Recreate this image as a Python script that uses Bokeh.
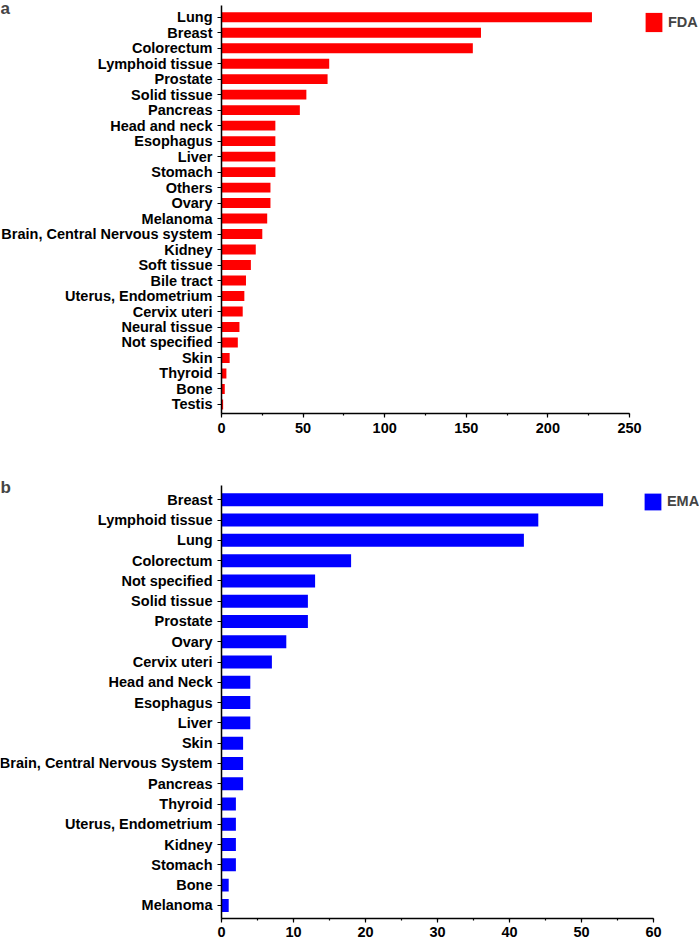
from bokeh.plotting import figure
from bokeh.models import (Range1d, SingleIntervalTicker, FixedTicker, Label, Legend,
                          LegendItem, ColumnDataSource)
from bokeh.layouts import column
from bokeh.embed import file_html
from bokeh.resources import INLINE

# ---- data ----
fda_sites = ["Lung", "Breast", "Colorectum", "Lymphoid tissue", "Prostate", "Solid tissue",
             "Pancreas", "Head and neck", "Esophagus", "Liver", "Stomach", "Others", "Ovary",
             "Melanoma", "Brain, Central Nervous system", "Kidney", "Soft tissue", "Bile tract",
             "Uterus, Endometrium", "Cervix uteri", "Neural tissue", "Not specified", "Skin",
             "Thyroid", "Bone", "Testis"]
fda_counts = [227, 159, 154, 66, 65, 52, 48, 33, 33, 33, 33, 30, 30, 28, 25, 21, 18, 15, 14,
              13, 11, 10, 5, 3, 2, 1]
fda_ticks_max = 250
fda_tick_step = 50

ema_sites = ["Breast", "Lymphoid tissue", "Lung", "Colorectum", "Not specified", "Solid tissue",
             "Prostate", "Ovary", "Cervix uteri", "Head and Neck", "Esophagus", "Liver", "Skin",
             "Brain, Central Nervous System", "Pancreas", "Thyroid", "Uterus, Endometrium",
             "Kidney", "Stomach", "Bone", "Melanoma"]
ema_counts = [53, 44, 42, 18, 13, 12, 12, 9, 7, 4, 4, 4, 3, 3, 3, 2, 2, 2, 2, 1, 1]
ema_ticks_max = 60
ema_tick_step = 10

FONT = "Liberation Sans"
W = 699
H = 470
LEFT = 221   # pixel position of the value axis' zero


def make_panel(cats, vals, color, name, axis_max, axis_px, step, cat_px, first_px,
               axis_top_px, axis_bottom_px, letter, letter_base_px, leg_left, leg_top,
               sq_w, sq_h, x_standoff):
    scale = axis_px / axis_max              # px per unit (value axis)
    x_start = -LEFT / scale
    x_end = (W - LEFT) / scale
    n = len(cats)
    pos = list(range(n - 1, -1, -1))        # first category on top
    y_top = (n - 1) + first_px / cat_px
    y_bot = y_top - H / cat_px

    p = figure(width=W, height=H, y_range=Range1d(y_bot, y_top),
               x_range=Range1d(x_start, x_end), output_backend="svg", toolbar_location=None,
               min_border_left=0, min_border_right=0, min_border_top=0, min_border_bottom=0)
    src = ColumnDataSource(dict(site=cats, pos=pos, n=vals))
    r = p.hbar(y="pos", right="n", left=0, height=0.64, source=src,
               fill_color=color, line_color=None)
    p.xgrid.visible = False
    p.ygrid.visible = False
    p.outline_line_color = None
    p.background_fill_color = "white"

    y_axis_low = y_top - axis_bottom_px / cat_px
    y_axis_high = y_top - axis_top_px / cat_px

    xa = p.xaxis[0]
    xa.fixed_location = y_axis_low
    xa.bounds = (0, axis_max)
    xa.ticker = SingleIntervalTicker(interval=step, num_minor_ticks=2)
    xa.axis_line_width = 1.5
    xa.axis_line_color = "black"
    xa.major_tick_line_width = 1.2
    xa.minor_tick_line_width = 1.2
    xa.major_tick_out = 4
    xa.major_tick_in = 0
    xa.minor_tick_out = 2
    xa.minor_tick_in = 0
    xa.major_label_standoff = x_standoff
    xa.major_label_text_font = FONT
    xa.major_label_text_font_style = "bold"
    xa.major_label_text_font_size = "14.5px"
    xa.major_label_text_color = "black"

    ya = p.yaxis[0]
    ya.fixed_location = 0
    ya.bounds = (y_axis_low, y_axis_high)
    ya.ticker = FixedTicker(ticks=pos, minor_ticks=[])
    ya.major_label_overrides = {pv: c for pv, c in zip(pos, cats)}
    ya.axis_line_width = 1.5
    ya.axis_line_color = "black"
    ya.major_tick_line_width = 1.2
    ya.major_tick_out = 4
    ya.major_tick_in = 0
    ya.minor_tick_out = 0
    ya.minor_tick_in = 0
    ya.major_label_standoff = 5
    ya.major_label_text_font = FONT
    ya.major_label_text_font_style = "bold"
    ya.major_label_text_font_size = "14.5px"
    ya.major_label_text_color = "black"

    # legend glyph of area renderers is inset by 10% on each side
    gw = sq_w / 0.8
    gh = sq_h / 0.8
    box_left = leg_left - 0.1 * gw
    box_top = leg_top - 0.1 * gh
    leg_h = max(gh, 20)
    vy = H - (box_top + leg_h)
    leg = Legend(items=[LegendItem(label=name, renderers=[r])], location=(box_left, vy),
                 margin=0, padding=0, glyph_width=round(gw), glyph_height=round(gh),
                 label_standoff=4, label_text_font=FONT, label_text_font_style="bold",
                 label_text_font_size="14.5px", border_line_color=None,
                 background_fill_alpha=0)
    p.add_layout(leg)

    # panel letter at the canvas' left edge
    p.add_layout(Label(x=x_start, y=y_top - letter_base_px / cat_px, text=letter,
                       text_align="left", text_baseline="alphabetic", text_font=FONT,
                       text_font_style="bold", text_font_size="17px"))
    return p


# pixel geometry (relative to each panel's top edge)
p1 = make_panel(fda_sites, fda_counts, "#FF0000", "FDA", fda_ticks_max, 408, fda_tick_step,
                15.49, 16.7, 5, 413, "a", 8, 645, 12.7, 17, 19, 5)
p2 = make_panel(ema_sites, ema_counts, "#0000FF", "EMA", ema_ticks_max, 432, ema_tick_step,
                20.28, 29.3, 15, 448.3, "b", 17, 644, 22.7, 17, 17, 4)

layout = column(p1, p2, spacing=0)
open("out.html", "w").write(file_html(layout, INLINE))
